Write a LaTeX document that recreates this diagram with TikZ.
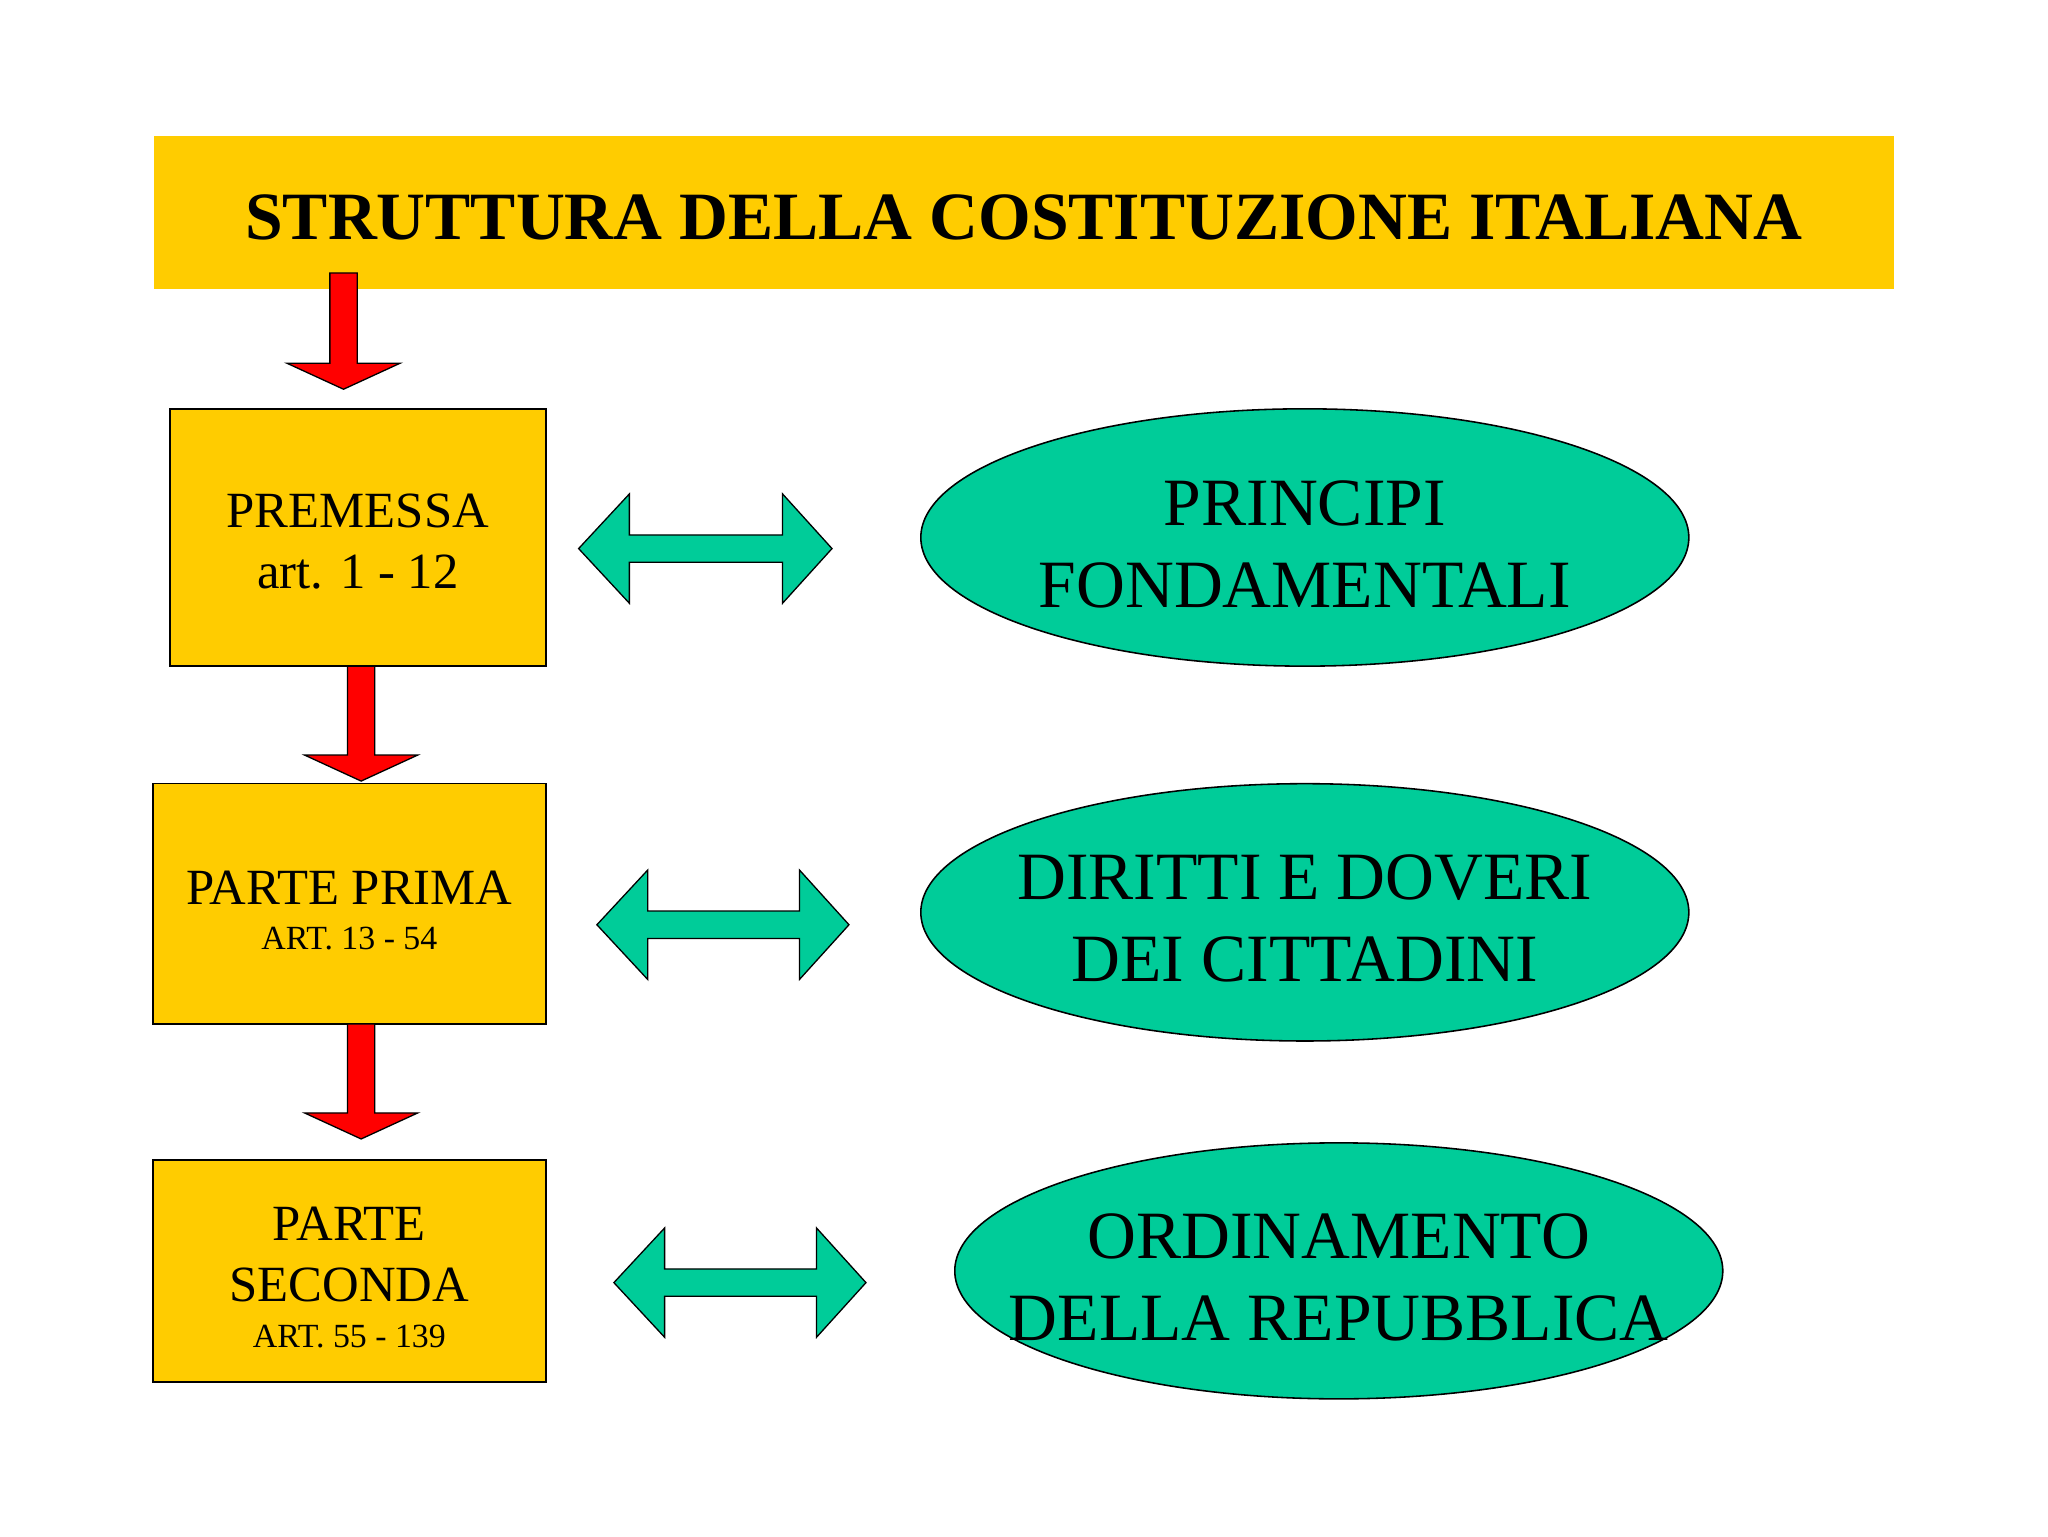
\documentclass[tikz,border=0pt]{standalone}
\usepackage{fontspec}
\setmainfont{Liberation Serif}
\usetikzlibrary{shapes.geometric,calc}
\definecolor{giallo}{RGB}{255,204,0}
\definecolor{verde}{RGB}{0,204,153}
\definecolor{rosso}{RGB}{255,0,0}
% red block arrow from #1 down to its tip #2
\newcommand{\giu}[2]{\draw [black,fill=rosso,line width=1bp] let \p1=(#1), \p2=(#2) in
 (\x1-10.5,\y1) -- (\x1+10.5,\y1) -- (\x1+10.5,\y2+20) -- (\x1+43.5,\y2+20)
 -- (\x2,\y2) -- (\x1-43.5,\y2+20) -- (\x1-10.5,\y2+20) -- cycle;}
% green double block arrow between tips #1 and #2
\newcommand{\doppia}[2]{\draw [black,fill=verde,line width=1bp] let \p1=(#1), \p2=(#2) in
 (\x1,\y1) -- (\x1+39,\y1+42) -- (\x1+39,\y1+10.5) -- (\x2-38,\y1+10.5) -- (\x2-38,\y1+42)
 -- (\x2,\y2) -- (\x2-38,\y1-42) -- (\x2-38,\y1-10.5) -- (\x1+39,\y1-10.5) -- (\x1+39,\y1-42) -- cycle;}
\begin{document}
\begin{tikzpicture}[x=1bp,y=-1bp,
  box/.style={draw=black,fill=giallo,line width=1.2bp,inner sep=0pt},
  boxtext/.style={inner sep=0pt,align=center,font=\fontsize{39}{47}\selectfont,yshift=-5bp},
  oval/.style={ellipse,draw=black,fill=verde,line width=1.2bp,inner sep=0pt,
    minimum width=588bp,minimum height=197bp},
  ovaltext/.style={inner sep=0pt,align=center,font=\fontsize{52}{63}\selectfont,yshift=-5bp}]
\path [fill=white] (0,0) rectangle (1568,1176);
\node [fill=giallo,inner sep=0pt,minimum width=1332bp,minimum height=117bp] (titolo) at (784,162.5) {};
\node [inner sep=0pt,font=\fontsize{52}{62}\selectfont\bfseries,yshift=-4bp] (titolot) at (titolo)
  {STRUTTURA DELLA COSTITUZIONE ITALIANA};
\node [box,minimum width=288bp,minimum height=197bp] (premessa) at (274,411.5) {};
\node [boxtext,yshift=2bp] (premessat) at (premessa) {PREMESSA\\art. 1 - 12};
\node [box,minimum width=301bp,minimum height=184bp] (prima) at (267.5,692) {};
\node [boxtext] (primat) at (prima)
  {PARTE PRIMA\\[-12bp]{\fontsize{26}{30}\selectfont ART. 13 - 54}};
\node [box,minimum width=301bp,minimum height=170bp] (seconda) at (267.5,973) {};
\node [boxtext] (secondat) at (seconda)
  {PARTE\\SECONDA\\[-12bp]{\fontsize{26}{30}\selectfont ART. 55 - 139}};
\node [oval] (principi) at (999,411.5) {};
\node [ovaltext] (principit) at (principi) {PRINCIPI\\FONDAMENTALI};
\node [oval] (diritti) at (999,698.5) {};
\node [ovaltext] (dirittit) at (diritti) {DIRITTI E DOVERI\\DEI CITTADINI};
\node [oval,minimum height=196bp] (ordinamento) at (1025,973) {};
\node [ovaltext] (ordinamentot) at (ordinamento) {ORDINAMENTO\\DELLA REPUBBLICA};
% red arrows
\coordinate (r1) at (263,209);
\coordinate (r1t) at (263,298);
\coordinate (r2) at (276.5,510);
\coordinate (r2t) at (276.5,598);
\coordinate (r3) at (276.5,784);
\coordinate (r3t) at (276.5,872);
\giu{r1}{r1t}
\giu{r2}{r2t}
\giu{r3}{r3t}
% green arrows
\coordinate (g1a) at (443,420);
\coordinate (g1b) at (637,420);
\coordinate (g2a) at (457,708);
\coordinate (g2b) at (650,708);
\coordinate (g3a) at (470,982);
\coordinate (g3b) at (663,982);
\doppia{g1a}{g1b}
\doppia{g2a}{g2b}
\doppia{g3a}{g3b}
\end{tikzpicture}
\end{document}
